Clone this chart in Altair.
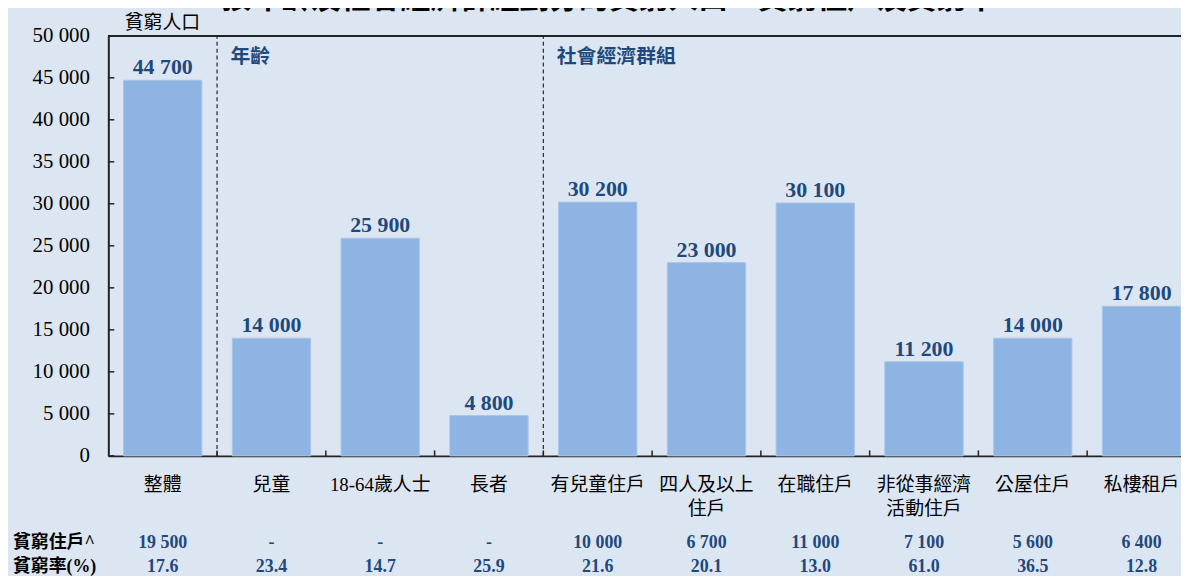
import altair as alt
import pandas as pd

# ---- data ----
categories = ["整體", "兒童", "18-64歲人士", "長者", "有兒童住戶",
              "四人及以上\n住戶", "在職住戶", "非從事經濟\n活動住戶", "公屋住戶", "私樓租戶"]
poor_population = [44700, 14000, 25900, 4800, 30200, 23000, 30100, 11200, 14000, 17800]
poor_households = [19500, None, None, None, 10000, 6700, 11000, 7100, 5600, 6400]
poverty_rate = [17.6, 23.4, 14.7, 25.9, 21.6, 20.1, 13.0, 61.0, 36.5, 12.8]
row_labels = ["貧窮住戶^", "貧窮率(%)"]
groups = ["年齡", "社會經濟群組"]
group_starts = ["兒童", "有兒童住戶"]
y_ticks = list(range(0, 50001, 5000))
y_title = "貧窮人口"
chart_title = "按年齡及社會經濟群組劃分的貧窮人口、貧窮住戶及貧窮率"

# ---- styling ----
BG = "#DCE6F2"
BAR = "#8DB4E2"
DARK_BLUE = "#1F497D"
AXIS = "#222222"
FONT = "'Liberation Serif', 'Noto Sans CJK TC', serif"

PLOT_W = 1080
PLOT_H = 423
X_RANGE = 1095
STEP = X_RANGE / len(categories)
P_IN = 0.28
P_OUT = 0.14
BOUND_OFF = -STEP * P_OUT  # from band start back to band boundary

df = pd.DataFrame({
    "cat": categories,
    "pop": poor_population,
    "hh": poor_households,
    "rate": poverty_rate,
})
df_groups = pd.DataFrame({"cat": group_starts, "group": groups})
df_bounds = pd.DataFrame({"cat": categories[1:]})
df_yticks = pd.DataFrame({"v": y_ticks})
df_title = pd.DataFrame({"t": [chart_title]})
df_rows = pd.DataFrame({"label": row_labels})

x_scale = alt.Scale(domain=categories, range=[0, X_RANGE], paddingInner=P_IN, paddingOuter=P_OUT)
y_scale = alt.Scale(domain=[0, 50000])

base = alt.Chart(df)

bars = base.mark_bar(color=BAR, stroke="#A7C5EB", strokeWidth=1).encode(
    x=alt.X("cat:N", scale=x_scale, sort=categories,
            axis=alt.Axis(labels=False, ticks=False, title=None, domainColor=AXIS, domainWidth=2)),
    y=alt.Y("pop:Q", scale=y_scale,
            axis=alt.Axis(values=y_ticks, ticks=False, grid=False, labelFont=FONT, labelFontSize=21,
                          labelColor="black", labelPadding=19, domainColor=AXIS, domainWidth=2,
                          labelExpr="replace(format(datum.value, ','), ',', ' ')",
                          title=y_title, titleAngle=0, titleAlign="left", titleBaseline="middle",
                          titleX=16, titleY=-13, titleFont=FONT, titleFontSize=19,
                          titleFontWeight="normal", titleColor="black")),
)

bar_labels = base.transform_calculate(
    lab="replace(format(datum.pop, ','), ',', ' ')"
).mark_text(dy=-6, baseline="alphabetic", font=FONT, fontSize=22, fontWeight="bold", color=DARK_BLUE).encode(
    x=alt.X("cat:N"), y=alt.Y("pop:Q"), text="lab:N"
)

dashed = alt.Chart(df_groups).mark_rule(strokeDash=[4, 3], color="#333333", strokeWidth=1.3,
                                        xOffset=BOUND_OFF).encode(
    x=alt.X("cat:N", bandPosition=0), y=alt.datum(0), y2=alt.datum(50000)
)

group_labels = alt.Chart(df_groups).mark_text(align="left", baseline="middle", font=FONT, fontSize=20,
                                              fontWeight="bold", color=DARK_BLUE,
                                              xOffset=BOUND_OFF + 13.5).encode(
    x=alt.X("cat:N", bandPosition=0), y=alt.datum(47500), text="group:N"
)

x_ticks = alt.Chart(df_bounds).mark_rule(color=AXIS, strokeWidth=1.5, xOffset=BOUND_OFF).encode(
    x=alt.X("cat:N", bandPosition=0), y=alt.datum(0), y2=alt.datum(650)
)

y_tick_marks = alt.Chart(df_yticks).mark_rule(color=AXIS, strokeWidth=1.5).encode(
    y=alt.Y("v:Q"), x=alt.value(0), x2=alt.value(6)
)

top_line = alt.Chart(df_yticks).mark_rule(color=AXIS, strokeWidth=1.5).encode(
    y=alt.datum(50000), x=alt.value(0), x2=alt.value(X_RANGE)
)

cat_labels = base.mark_text(baseline="top", lineBreak="\n", lineHeight=25, font=FONT, fontSize=19,
                            color="black").encode(
    x=alt.X("cat:N"), y=alt.value(PLOT_H + 20), text="cat:N"
)

hh_row = base.transform_calculate(
    lab="datum.hh == null ? '-' : replace(format(datum.hh, ','), ',', ' ')"
).mark_text(baseline="middle", font=FONT, fontSize=18, fontWeight="bold", color=DARK_BLUE).encode(
    x=alt.X("cat:N"), y=alt.value(PLOT_H + 88), text="lab:N"
)

rate_row = base.transform_calculate(
    lab="format(datum.rate, '.1f')"
).mark_text(baseline="middle", font=FONT, fontSize=18, fontWeight="bold", color=DARK_BLUE).encode(
    x=alt.X("cat:N"), y=alt.value(PLOT_H + 112), text="lab:N"
)

row_label_1 = alt.Chart(df_rows).transform_filter(
    alt.datum.label == row_labels[0]
).mark_text(align="left", baseline="middle", font=FONT, fontSize=18, fontWeight="bold",
            color="black").encode(x=alt.value(-96), y=alt.value(PLOT_H + 88), text="label:N")

row_label_2 = alt.Chart(df_rows).transform_filter(
    alt.datum.label == row_labels[1]
).mark_text(align="left", baseline="middle", font=FONT, fontSize=18, fontWeight="bold",
            color="black").encode(x=alt.value(-96), y=alt.value(PLOT_H + 112), text="label:N")

title_text = alt.Chart(df_title).mark_text(align="center", baseline="alphabetic", font=FONT, fontSize=30,
                                           fontWeight="bold", color="black").encode(
    x=alt.value(504), y=alt.value(-28), text="t:N"
)

chart = alt.layer(
    bars, bar_labels, dashed, group_labels, x_ticks, y_tick_marks, top_line,
    cat_labels, hh_row, rate_row, row_label_1, row_label_2, title_text
).properties(
    width=PLOT_W, height=PLOT_H,
    autosize=alt.AutoSizeParams(type="none"),
    padding={"left": 101, "top": 26, "right": 0, "bottom": 119},
    background=BG,
).configure_view(strokeWidth=0)

chart.save("out.html", embed_options={"renderer": "svg", "actions": False})
